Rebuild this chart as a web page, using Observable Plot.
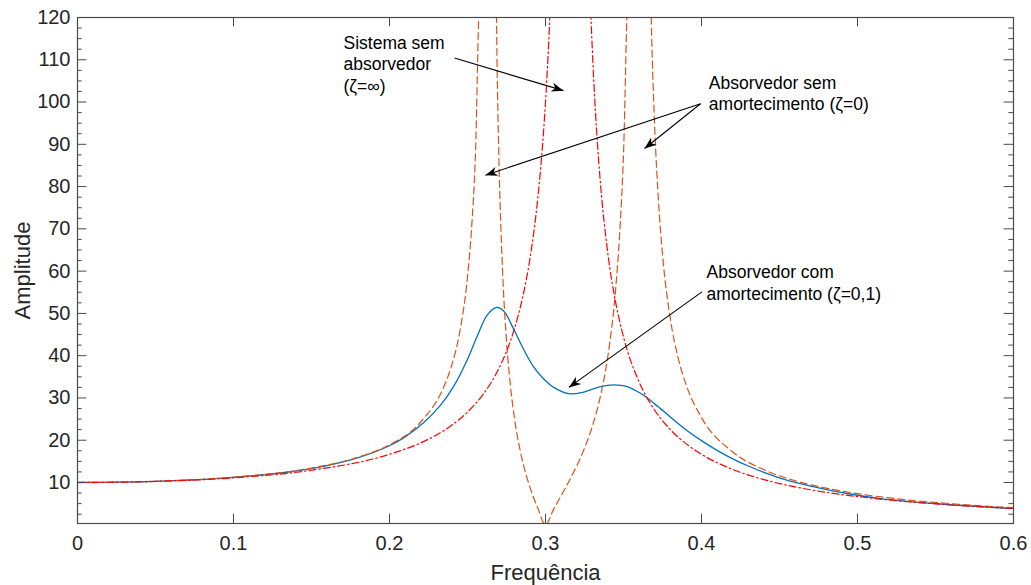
<!DOCTYPE html>
<html>
<head>
<meta charset="utf-8">
<script src="https://cdn.jsdelivr.net/npm/d3@7"></script>
<script src="https://cdn.jsdelivr.net/npm/@observablehq/plot@0.6"></script>
<style>
  html, body { margin: 0; padding: 0; background: #fff; }
  #chart { width: 1031px; height: 585px; }
</style>
</head>
<body>
<div id="chart"></div>
<script>
// ---- Data ----
// Sistema sem absorvedor (ζ=∞) — red dash-dot
const redF = [0, 0.05, 0.1, 0.15, 0.2, 0.22, 0.24, 0.25, 0.26, 0.27, 0.28, 0.285, 0.29, 0.295, 0.298, 0.3, 0.302, 0.303, 0.306,
  0.325, 0.328, 0.33, 0.332, 0.335, 0.34, 0.345, 0.35, 0.36, 0.37, 0.38, 0.39, 0.4, 0.42, 0.44, 0.46, 0.48, 0.5, 0.53, 0.56, 0.6];
const redA = [10, 10.26, 11.11, 12.9, 16.67, 19.38, 23.58, 26.67, 30.86, 36.9, 46.3, 53.26, 62.89, 77.07, 89.3, 100, 113.7, 122.1, 157.1,
  177.8, 131.9, 112.4, 97.8, 81.8, 64.1, 52.56, 44.44, 33.78, 27.1, 22.52, 19.19, 16.67, 13.09, 10.68, 8.96, 7.67, 6.67, 5.53, 4.68, 3.85];

// Absorvedor sem amortecimento (ζ=0) — orange dashed
const orangeF = [0, 0.05, 0.1, 0.15, 0.18, 0.2, 0.22, 0.236, 0.24, 0.245, 0.25, 0.2525, 0.255, 0.258,
  0.268, 0.269, 0.27, 0.2725, 0.275, 0.2775, 0.28, 0.285, 0.29, 0.295, 0.3, 0.305, 0.31, 0.315, 0.32, 0.325, 0.33, 0.335, 0.34, 0.345, 0.3475, 0.35, 0.353,
  0.366, 0.368, 0.37, 0.3725, 0.375, 0.38, 0.385, 0.39, 0.4, 0.42, 0.44, 0.46, 0.48, 0.5, 0.53, 0.56, 0.6];
const orangeA = [10, 10.28, 11.25, 13.42, 15.99, 18.94, 24.31, 33.7, 37.88, 45.55, 58.67, 69.54, 86.64, 126.96,
  135.3, 107.7, 88.74, 59.86, 43.53, 32.96, 25.49, 15.5, 8.9, 4.0, 0, 3.52, 6.86, 10.25, 13.9, 18.11, 23.28, 30.1, 39.94, 55.92, 68.59, 87.54, 128.3,
  153.2, 116.4, 94.08, 76.12, 64.0, 48.76, 39.5, 33.27, 25.36, 17.23, 13.02, 10.42, 8.65, 7.36, 5.96, 4.98, 4.03];

// Absorvedor com amortecimento (ζ=0,1) — blue solid
const blueF = [0, 0.05, 0.1, 0.15, 0.18, 0.2, 0.21, 0.222, 0.2327, 0.2412, 0.2498, 0.2562, 0.2626, 0.2686, 0.2733, 0.2797, 0.2861, 0.2925,
  0.2989, 0.3053, 0.3149, 0.3246, 0.3353, 0.3438, 0.3524, 0.3609, 0.37, 0.38, 0.39, 0.4, 0.41, 0.42, 0.43, 0.44, 0.45, 0.46, 0.472, 0.4934, 0.5147, 0.5575, 0.6];
const blueA = [10, 10.27, 11.2, 13.3, 15.9, 18.7, 20.8, 24.2, 28.3, 32.8, 39.0, 44.6, 49.6, 51.4, 50.5, 46.2, 41.4, 37.3,
  34.5, 32.5, 31.0, 31.4, 32.7, 33.1, 32.7, 31.1, 28.6, 25.5, 22.5, 19.9, 17.6, 15.6, 13.9, 12.4, 11.1, 10.0, 9.0, 7.4, 6.2, 4.8, 3.85];

// Axes
const xTicks = [0, 0.1, 0.2, 0.3, 0.4, 0.5, 0.6];
const yTicks = [10, 20, 30, 40, 50, 60, 70, 80, 90, 100, 110, 120];
const yMinor = [2.5, 5, 7.5, 12.5, 15, 17.5, 22.5, 25, 27.5, 32.5, 35, 37.5, 42.5, 45, 47.5, 52.5, 55, 57.5, 62.5, 65, 67.5,
  72.5, 75, 77.5, 82.5, 85, 87.5, 92.5, 95, 97.5, 102.5, 105, 107.5, 112.5, 115, 117.5];
const xLabel = "Frequência";
const yLabel = "Amplitude";

// Annotations (text lines and arrows, in data units)
const noteText = ["Sistema sem", "absorvedor", "(ζ=∞)", "Absorvedor sem", "amortecimento (ζ=0)", "Absorvedor com", "amortecimento (ζ=0,1)"];
const noteX = [0.1705, 0.1705, 0.1705, 0.4047, 0.4047, 0.4032, 0.4032];
const noteY = [113.9, 108.8, 103.8, 104.4, 99.5, 59.6, 54.6];
const arrowX1 = [0.2417, 0.3994, 0.3994, 0.4003];
const arrowY1 = [110.4, 99.6, 99.6, 55.1];
const arrowX2 = [0.3115, 0.2615, 0.3635, 0.315];
const arrowY2 = [102.7, 82.7, 89.0, 32.5];

// ---- Build tables ----
const red = redF.map((f, i) => ({f, a: redA[i]}));
const orange = orangeF.map((f, i) => ({f, a: orangeA[i]}));
const blue = blueF.map((f, i) => ({f, a: blueA[i]}));
const notes = noteText.map((t, i) => ({t, x: noteX[i], y: noteY[i]}));
const arrows = arrowX1.map((x1, i) => ({x1, y1: arrowY1[i], x2: arrowX2[i], y2: arrowY2[i]}));

const Y0 = 0.3, Y1 = 120, X0 = 0, X1 = 0.6;
const majX = 0.006, minX = 0.003, majY = 2.2;
const axisColor = "#4a4a4a";
const font = "'Liberation Sans', Arial, Helvetica, sans-serif";

const svg = Plot.plot({
  width: 1031,
  height: 585,
  marginLeft: 77,
  marginRight: 18,
  marginTop: 17,
  marginBottom: 62,
  x: {domain: [X0, X1]},
  y: {domain: [Y0, Y1]},
  style: {fontFamily: font, fontSize: "20px", color: "#262626", background: "#fff"},
  marks: [
    // curves
    Plot.line(blue, {x: "f", y: "a", stroke: "#0072BD", strokeWidth: 1.3, curve: "catmull-rom", clip: true}),
    Plot.line(orange, {x: "f", y: "a", stroke: "#D95319", strokeWidth: 1.2, strokeDasharray: "7,4", curve: "monotone-x", clip: true}),
    Plot.line(red, {x: "f", y: "a", stroke: "#FF0000", strokeWidth: 1.2, strokeDasharray: "7,3,1.5,3", curve: "monotone-x", clip: true}),
    // frame
    Plot.frame({stroke: axisColor, strokeWidth: 1.2}),
    // inward ticks
    Plot.ruleY(yTicks, {x1: X0, x2: X0 + majX, stroke: axisColor}),
    Plot.ruleY(yTicks, {x1: X1 - majX, x2: X1, stroke: axisColor}),
    Plot.ruleY(yMinor, {x1: X0, x2: X0 + minX, stroke: axisColor}),
    Plot.ruleY(yMinor, {x1: X1 - minX, x2: X1, stroke: axisColor}),
    Plot.ruleX(xTicks, {y1: Y0, y2: Y0 + majY, stroke: axisColor}),
    Plot.ruleX(xTicks, {y1: Y1 - majY, y2: Y1, stroke: axisColor}),
    // tick labels
    Plot.axisY({ticks: yTicks, tickSize: 0, tickPadding: 7, label: null, fontSize: 20, fill: "#262626"}),
    Plot.axisX({ticks: xTicks, tickSize: 0, tickPadding: 12, label: null, fontSize: 20, fill: "#262626", tickFormat: d => String(d)}),
    // axis titles
    Plot.text([xLabel], {frameAnchor: "bottom", dy: 49, text: d => d, fontSize: 22, fill: "#262626", textAnchor: "middle", lineAnchor: "middle"}),
    Plot.text([yLabel], {frameAnchor: "left", dx: -55, rotate: -90, text: d => d, fontSize: 22, fill: "#262626", textAnchor: "middle", lineAnchor: "middle"}),
    // annotations
    Plot.text(notes, {x: "x", y: "y", text: "t", textAnchor: "start", lineAnchor: "middle", fontSize: 17.5, fill: "#000"}),
    Plot.link(arrows, {x1: "x1", y1: "y1", x2: "x2", y2: "y2", stroke: "#000", strokeWidth: 1.1})
  ]
});

document.getElementById("chart").append(svg);

// filled arrowheads on the annotation links
const s = d3.select(svg);
const defs = s.insert("defs", ":first-child");
defs.append("marker")
  .attr("id", "ahead")
  .attr("viewBox", "-13 -6 14 12")
  .attr("refX", 0).attr("refY", 0)
  .attr("markerWidth", 14).attr("markerHeight", 12)
  .attr("markerUnits", "userSpaceOnUse")
  .attr("orient", "auto")
  .append("path")
  .attr("d", "M0,0 L-12,-4.6 L-8.5,0 L-12,4.6 Z")
  .attr("fill", "#000");
s.selectAll('g[aria-label="link"] path').attr("marker-end", "url(#ahead)");
</script>
</body>
</html>
